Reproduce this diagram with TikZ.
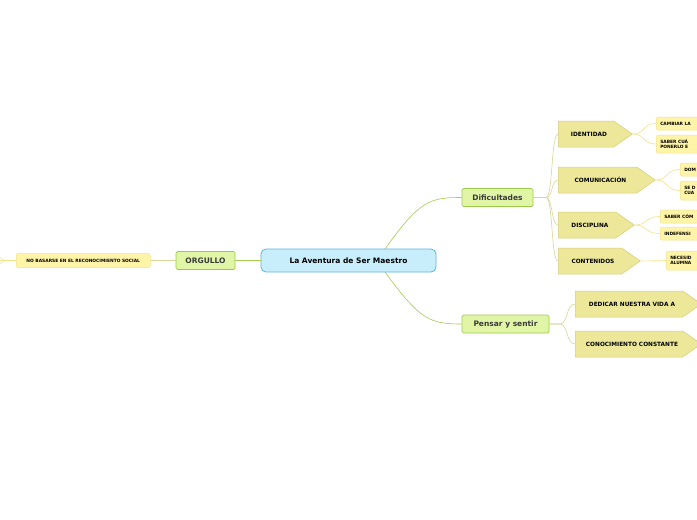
\documentclass[tikz,border=0pt]{standalone}
\usepackage{fontspec}
\setmainfont{DejaVu Sans}
\usetikzlibrary{shapes.arrows}
\definecolor{cblue}{HTML}{C8EEFC}\definecolor{bblue}{HTML}{5DB5DA}
\definecolor{cgreen}{HTML}{E0F5A6}\definecolor{bgreen}{HTML}{9ACB4C}
\definecolor{carrow}{HTML}{EDE79A}\definecolor{barrow}{HTML}{D6CE78}
\definecolor{cleaf}{HTML}{FFF4A8}\definecolor{bleaf}{HTML}{F3E489}
\definecolor{lgreen}{HTML}{A5CB55}\definecolor{lsub}{HTML}{D9D69A}
\definecolor{tgray}{HTML}{3A3A3A}
\begin{document}
\begin{tikzpicture}[x=1pt,y=-1pt,
 main/.style={draw=bblue,fill=cblue,rounded corners=5pt,line width=0.8pt,minimum width=175pt,minimum height=23pt,font=\fontsize{7.5}{8}\selectfont\bfseries},
 br/.style={draw=bgreen,fill=cgreen,rounded corners=1.5pt,line width=0.7pt,minimum height=18pt,inner xsep=5pt,text=tgray,font=\fontsize{7.5}{8}\selectfont\bfseries},
 arr/.style={single arrow,draw=barrow,fill=carrow,line width=0.5pt,anchor=west,minimum height=#1,minimum width=26pt,single arrow head extend=0pt,single arrow tip angle=70,inner sep=0pt,align=left,font=\fontsize{5.8}{6}\selectfont\bfseries},
 leaf/.style={draw=bleaf,fill=cleaf,rounded corners=2pt,line width=0.5pt,anchor=west,align=left,inner xsep=4pt,inner ysep=2pt,font=\fontsize{4.4}{5}\selectfont\bfseries},
 lg/.style={draw=lgreen,line width=0.6pt},
 ls/.style={draw=lsub,line width=0.6pt},
 ll/.style={draw=bleaf,line width=0.6pt}]
\useasboundingbox (0,0) rectangle (697,520);
\clip (0,0) rectangle (697,520);
\fill[white] (0,0) rectangle (697,520);
\node[main] (c) at (348.5,260.5) {La Aventura de Ser Maestro};
\node[br,minimum width=71pt] (d) at (497.5,197.5) {Dificultades};
\node[br,minimum width=87pt] (p) at (505.5,324) {Pensar y sentir};
\node[br,minimum width=59pt] (o) at (205.5,260.5) {ORGULLO};
\node[leaf,minimum width=134pt,minimum height=14pt,inner xsep=3pt] (n) at (16,260.5) {NO BASARSE EN EL RECONOCIMIENTO SOCIAL};
\coordinate (nl) at (0,260.5);
% arrows
\node[arr=74pt] (a1) at (558,134) {\hspace*{6pt}IDENTIDAD};
\node[arr=97pt] (a2) at (558,180) {\hspace*{6pt}COMUNICACIÓN};
\node[arr=76pt] (a3) at (558,225) {\hspace*{6pt}DISCIPLINA};
\node[arr=82pt] (a4) at (558,261) {\hspace*{6pt}CONTENIDOS};
\node[arr=126pt] (a5) at (575,304) {\hspace*{6pt}DEDICAR NUESTRA VIDA A};
\node[arr=126pt] (a6) at (575,344) {\hspace*{6pt}CONOCIMIENTO CONSTANTE};
% leaves
\node[leaf,minimum height=13pt,text width=60pt] (l1) at (656,123.5) {CAMBIAR LA};
\node[leaf,minimum height=18pt,text width=60pt] (l2) at (656,144) {SABER CUÁ\\PONERLO E};
\node[leaf,minimum height=13pt,text width=60pt] (l3) at (680,169.5) {DOM};
\node[leaf,minimum height=19pt,text width=60pt] (l4) at (680,190.5) {SE D\\CUA};
\node[leaf,minimum height=13pt,text width=60pt] (l5) at (660,216.5) {SABER CÓM};
\node[leaf,minimum height=13pt,text width=60pt] (l6) at (660,233.5) {INDEFENSI};
\node[leaf,minimum height=19pt,text width=60pt] (l7) at (666,260.5) {NECESID\\ALUMNA};
% connectors
\draw[lg] (385,249) .. controls (420,200) and (430,197.5) .. (d.west);
\draw[lg] (385,272) .. controls (420,320) and (430,324) .. (p.west);
\draw[lg] (c.west) -- (o.east);
\draw[ls] (o.west) -- (n.east);
\draw[bleaf,line width=0.6pt] (n.west) -- (nl);
\draw[bleaf,line width=0.5pt] (0,257) -- (4,260.5) -- (0,264);
\foreach \a/\y in {a1/134,a2/180,a3/225,a4/261}
 \draw[ls] (d.east) -- (546,197.5) .. controls (553,197.5) and (551,\y) .. (\a.west);
\foreach \a/\y in {a5/304,a6/344}
 \draw[ls] (p.east) -- (560,324) .. controls (568,324) and (566,\y) .. (\a.west);
\foreach \a/\l/\x in {a1/l1/632,a1/l2/632,a2/l3/655,a2/l4/655,a3/l5/634,a3/l6/634}
 \draw[ll] (\a.east) .. controls (\x+14,0|-\a.east) and (\x+10,0|-\l.west) .. (\l.west);
\draw[ll] (a4.east) -- (l7.west);
\end{tikzpicture}
\end{document}
